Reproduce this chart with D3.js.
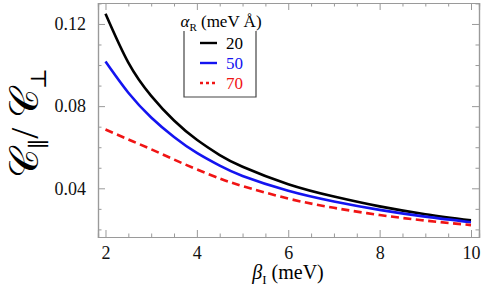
<!DOCTYPE html>
<html>
<head>
<meta charset="utf-8">
<script src="https://cdn.jsdelivr.net/npm/d3@7"></script>
<style>
  body { margin: 0; background: #fff; }
  #chart text { font-family: "Liberation Serif", "Tinos", "Times New Roman", "DejaVu Serif", serif !important; }
</style>
</head>
<body>
<svg id="chart" width="491" height="297"></svg>
<script>
// C_par / C_perp vs beta_I for three Rashba strengths
var betaValues = [2, 2.5, 3, 3.5, 4, 4.5, 5, 6, 7, 8, 9, 10];
var ratio20 = [0.1250, 0.1012, 0.0850, 0.0730, 0.0636, 0.0562, 0.0505, 0.0420, 0.0360, 0.0312, 0.0274, 0.0244];
var ratio50 = [0.1017, 0.0865, 0.0745, 0.0650, 0.0572, 0.0510, 0.0460, 0.0388, 0.0336, 0.0295, 0.0262, 0.0235];
var ratio70 = [0.0686, 0.0638, 0.0590, 0.0540, 0.0492, 0.0448, 0.0411, 0.0350, 0.0305, 0.0270, 0.0243, 0.0221];
var seriesNames = ["20", "50", "70"];
var xTicks = [2, 4, 6, 8, 10];
var yTicks = [0.04, 0.08, 0.12];

var colors = ["#000000", "#1414f0", "#f01414"];
var dashes = [null, null, "8,4.5"];
var allSeries = [ratio20, ratio50, ratio70];

var svg = d3.select("#chart");
// plot frame edges (note: "top" is reserved on window, so use other names)
var fLeft = 98, fRight = 479, fTop = 3, fBottom = 237;

var x = d3.scaleLinear().domain([1.836, 10.175]).range([fLeft, fRight]);
var y = d3.scaleLinear().domain([0.0163, 0.1302]).range([fBottom, fTop]);

var frameColor = "#9a9a9a";

// minor tick values
var xMinor = d3.range(2, 10.01, 0.5).filter(function(v) { return xTicks.indexOf(v) < 0; });
var yMinor = d3.range(0.02, 0.1301, 0.01).map(function(v) { return +v.toFixed(2); })
               .filter(function(v) { return yTicks.indexOf(v) < 0; });

// axes with inward ticks on all four sides
function frameAxis(axisFn, scale, major, minor, tx, ty, labels) {
  var g = svg.append("g").attr("transform", "translate(" + tx + "," + ty + ")");
  g.call(axisFn(scale).tickValues(minor).tickSize(-3.5).tickFormat(""));
  var g2 = svg.append("g").attr("transform", "translate(" + tx + "," + ty + ")");
  g2.call(axisFn(scale).tickValues(major).tickSize(-7).tickPadding(labels ? 12 : 0)
        .tickFormat(labels ? labels : ""));
  [g, g2].forEach(function(gg) {
    gg.attr("font-size", 18);
    gg.selectAll(".domain").attr("stroke", frameColor).attr("stroke-width", 1.2);
    gg.selectAll(".tick line").attr("stroke", frameColor);
    gg.selectAll("text").attr("fill", "#111");
  });
  return g2;
}

var gx = frameAxis(d3.axisBottom, x, xTicks, xMinor, 0, fBottom, d3.format("d"));
gx.selectAll("text").attr("dy", "0.55em");
frameAxis(d3.axisTop, x, xTicks, xMinor, 0, fTop, null);
frameAxis(d3.axisLeft, y, yTicks, yMinor, fLeft, 0, d3.format(".2f"));
frameAxis(d3.axisRight, y, yTicks, yMinor, fRight, 0, null);

// curves
var line = d3.line()
    .x(function(d) { return x(d[0]); })
    .y(function(d) { return y(d[1]); })
    .curve(d3.curveNatural);

allSeries.forEach(function(vals, i) {
  var pts = betaValues.map(function(b, j) { return [b, vals[j]]; });
  svg.append("path")
     .datum(pts)
     .attr("d", line)
     .attr("fill", "none")
     .attr("stroke", colors[i])
     .attr("stroke-width", 2.6)
     .attr("stroke-dasharray", dashes[i]);
});

// legend box (open on top, title sits there)
var legend = svg.append("g");
legend.append("path")
      .attr("d", "M184,31 V97 H256 V31")
      .attr("fill", "none")
      .attr("stroke", "#444")
      .attr("stroke-width", 1.2);

var lt = legend.append("text").attr("x", 221).attr("y", 27).attr("text-anchor", "middle")
      .attr("font-size", 17);
lt.append("tspan").text("α").attr("font-style", "italic");
lt.append("tspan").text("R").attr("dy", 4).attr("font-size", 11);
lt.append("tspan").text(" (meV Å)").attr("dy", -4);

var legendY = [43, 63, 83];
var legendDash = [null, null, "3,3"];
seriesNames.forEach(function(name, i) {
  legend.append("line")
        .attr("x1", 200).attr("x2", 217)
        .attr("y1", legendY[i]).attr("y2", legendY[i])
        .attr("stroke", colors[i])
        .attr("stroke-width", 2.4)
        .attr("stroke-dasharray", legendDash[i]);
  legend.append("text")
        .attr("x", 226).attr("y", legendY[i] + 5.5)
        .attr("fill", colors[i])
        .attr("font-size", 17)
        .text(name);
});

// x label
var xl = svg.append("text").attr("x", 288).attr("y", 279).attr("text-anchor", "middle")
      .attr("font-size", 20);
xl.append("tspan").text("β").attr("font-style", "italic");
xl.append("tspan").text("I").attr("dy", 5).attr("font-size", 13);
xl.append("tspan").text(" (meV)").attr("dy", -5);

// y label
var yl = svg.append("text")
      .attr("transform", "translate(38,123) rotate(-90)")
      .attr("text-anchor", "middle")
      .attr("font-size", 40);
yl.append("tspan").text("𝒞");
yl.append("tspan").text("∥").attr("dy", 8).attr("font-size", 22);
yl.append("tspan").text("/ ").attr("dy", -8);
yl.append("tspan").text("𝒞");
yl.append("tspan").text("⊥").attr("dy", 8).attr("font-size", 22);
</script>
</body>
</html>
